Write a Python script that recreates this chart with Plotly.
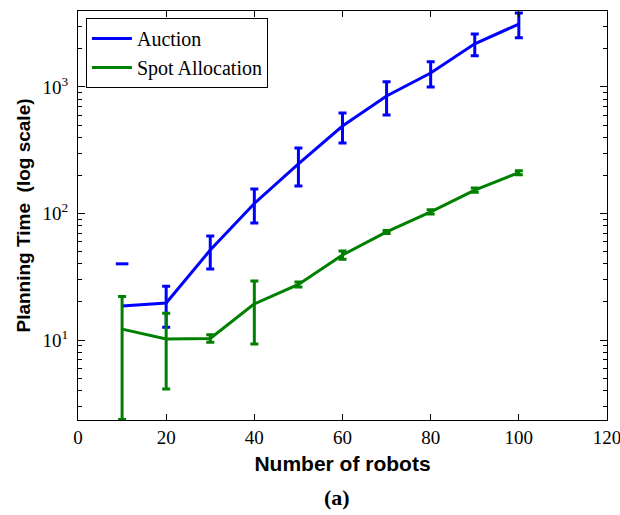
import numpy as np
import plotly.graph_objects as go

# ---- data ----
robots = [10, 20, 30, 40, 50, 60, 70, 80, 90, 100]
auction_mean = [18.6, 19.6, 51.4, 120, 247, 491, 849, 1289, 2190, 3142]
auction_err = [21.4, 7.0, 15.0, 36, 82, 130, 248, 290, 430, 700]
spot_mean = [12.2, 10.2, 10.3, 19.3, 27.5, 47.0, 71.5, 103, 153, 210]
spot_err = [9.85, 6.1, 0.7, 10.0, 1.3, 3.5, 2.0, 4.0, 6.0, 8.0]

x_ticks = [0, 20, 40, 60, 80, 100, 120]
y_tickvals = [10, 100, 1000]
y_ticktext = ["10<sup>1</sup>", "10<sup>2</sup>", "10<sup>3</sup>"]
y_minor = [3, 4, 5, 6, 7, 8, 9, 20, 30, 40, 50, 60, 70, 80, 90,
           200, 300, 400, 500, 600, 700, 800, 900, 2000, 3000]

BLUE = "#0000FF"
GREEN = "#008000"
SERIF = "Liberation Serif, Times New Roman, serif"
SANS = "Liberation Sans, Arial, sans-serif"

fig = go.Figure()


def add_series(name, xs, mean, err, color):
    xs = np.array(xs, float)
    mean = np.array(mean, float)
    err = np.array(err, float)
    lower = mean - err
    ok = lower > 0
    fig.add_trace(go.Scatter(x=xs, y=mean, mode="lines", name=name,
                             line=dict(color=color, width=3),
                             cliponaxis=False, showlegend=True))
    fig.add_trace(go.Scatter(x=xs[ok], y=mean[ok], mode="markers",
                             marker=dict(size=1, opacity=0, color=color),
                             error_y=dict(type="data", array=err[ok], color=color,
                                          thickness=3, width=4),
                             cliponaxis=False, showlegend=False, hoverinfo="skip"))
    if (~ok).any():
        fig.add_trace(go.Scatter(x=xs[~ok], y=(mean + err)[~ok], mode="markers",
                                 marker=dict(symbol="line-ew", size=9,
                                             line=dict(color=color, width=3)),
                                 cliponaxis=False, showlegend=False, hoverinfo="skip"))


add_series("Auction", robots, auction_mean, auction_err, BLUE)
add_series("Spot Allocation", robots, spot_mean, spot_err, GREEN)

axis_common = dict(showline=True, linecolor="black", linewidth=1, mirror="ticks",
                   ticks="inside", tickcolor="black", showgrid=False, zeroline=False,
                   automargin=False,
                   tickfont=dict(family=SERIF, size=19, color="black"))

fig.update_xaxes(range=[-0.001, 120.001], tickvals=x_ticks, ticklen=6,
                 ticklabeloverflow="allow",
                 title=dict(text="<b>Number of robots</b>",
                            font=dict(family=SANS, size=21, color="black"), standoff=9),
                 **axis_common)
fig.update_yaxes(type="log", range=[0.368, 3.60], tickvals=y_tickvals,
                 ticktext=y_ticktext, ticklen=7, ticklabelstandoff=5,
                 minor=dict(ticks="inside", ticklen=4, tickcolor="black", showgrid=False,
                            tickvals=y_minor),
                 title=dict(text="<b>Planning Time  (log scale)</b>",
                            font=dict(family=SANS, size=19, color="black"), standoff=6),
                 **axis_common)

fig.add_annotation(text="<b>(a)</b>", xref="paper", yref="paper", x=0.49, y=-0.19,
                   yanchor="middle", showarrow=False,
                   font=dict(family=SERIF, size=22, color="black"))

fig.update_layout(
    width=620, height=515,
    margin=dict(l=78, r=13, t=11, b=95, autoexpand=False),
    paper_bgcolor="white", plot_bgcolor="white",
    legend=dict(x=0.015, y=0.983, xanchor="left", yanchor="top",
                bgcolor="white", bordercolor="black", borderwidth=1,
                font=dict(family=SERIF, size=20, color="black"),
                tracegroupgap=0, itemwidth=40),
)

fig.write_html("out.html")
